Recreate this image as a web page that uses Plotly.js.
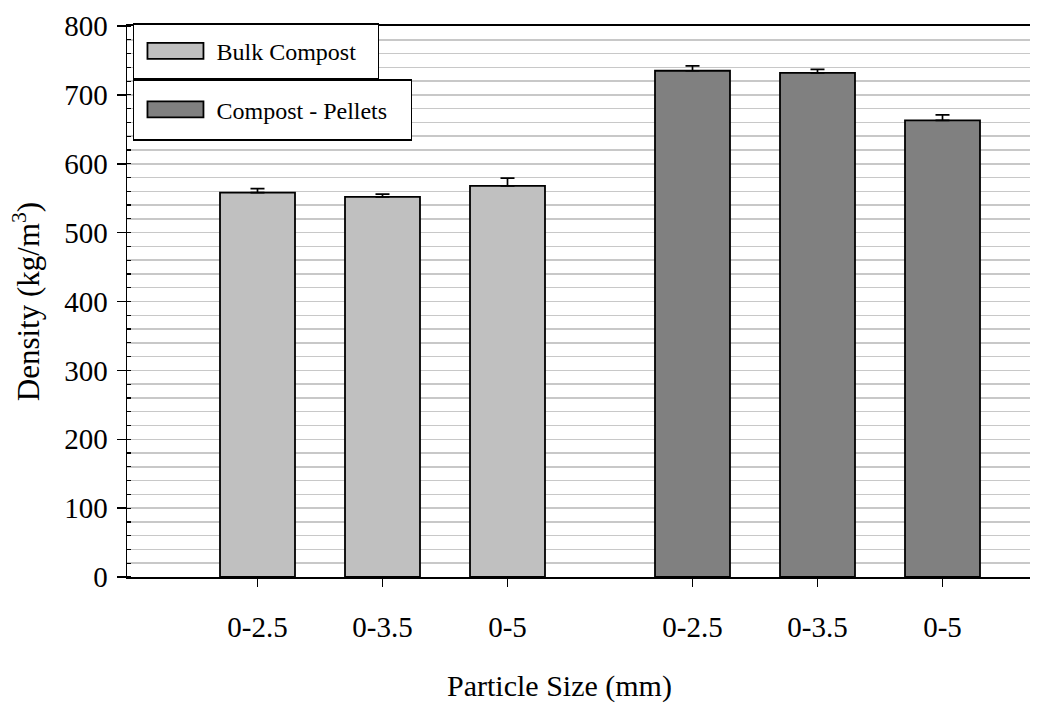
<!DOCTYPE html>
<html>
<head>
<meta charset="utf-8">
<script src="https://cdn.plot.ly/plotly-3.0.1.min.js"></script>
<style>
  html, body { margin: 0; padding: 0; background: #fff; }
  #chart { width: 1059px; height: 705px; }
</style>
</head>
<body>
<div id="chart"></div>
<script>
// Particle size classes (mm), shared by both product groups
const sizes = ['0-2.5', '0-3.5', '0-5'];

// Bulk compost density (kg/m3) and standard deviation
const bulkDensity = [558, 552, 568];
const bulkErr = [6, 4, 11];

// Compost pellet density (kg/m3) and standard deviation
const pelletDensity = [735, 732, 663];
const pelletErr = [7, 5, 8];

// Layout of the two bar groups along a numeric axis
const groupGap = 1.48;
const bulkX = sizes.map((_, i) => i);
const pelletX = sizes.map((_, i) => sizes.length - 1 + groupGap + i);

const serif = 'Liberation Serif';

// Upper-only error whiskers
const errStyle = (arr) => ({
  type: 'data', symmetric: false, array: arr, arrayminus: arr.map(() => 0),
  visible: true, color: '#000', thickness: 1.7, width: 7
});

const traces = [
  {
    type: 'bar', name: 'Bulk Compost',
    x: bulkX, y: bulkDensity, width: 0.6,
    marker: { color: '#c0c0c0', line: { color: '#000', width: 1.8 } },
    error_y: errStyle(bulkErr),
    legend: 'legend'
  },
  {
    type: 'bar', name: 'Compost - Pellets',
    x: pelletX, y: pelletDensity, width: 0.6,
    marker: { color: '#808080', line: { color: '#000', width: 1.8 } },
    error_y: errStyle(pelletErr),
    legend: 'legend2'
  }
];

const legendBase = {
  bgcolor: '#fff', bordercolor: '#000', borderwidth: 1.5,
  font: { family: serif, size: 24, color: '#000' },
  xref: 'paper', yref: 'paper', xanchor: 'left', yanchor: 'top',
  itemwidth: 72
};

const layout = {
  width: 1059, height: 705,
  margin: { l: 127, r: 29, t: 26, b: 128 },
  paper_bgcolor: '#fff', plot_bgcolor: '#fff',
  font: { family: serif, color: '#000' },
  showlegend: true,
  legend: Object.assign({}, legendBase, { x: 0.0066, y: 1.0054 }),
  legend2: Object.assign({}, legendBase, { x: 0.0066, y: 0.9038 }),
  xaxis: {
    range: [-1.044, 6.18],
    tickmode: 'array',
    tickvals: bulkX.concat(pelletX),
    ticktext: sizes.concat(sizes),
    ticks: 'outside', ticklen: 8, tickwidth: 1.5, tickcolor: '#000',
    ticklabelstandoff: 15,
    showline: true, linecolor: '#000', linewidth: 2, mirror: true,
    showgrid: false, zeroline: false,
    tickfont: { family: serif, size: 29, color: '#000' }
  },
  yaxis: {
    range: [0, 800], dtick: 100,
    ticks: 'outside', ticklen: 9, tickwidth: 1.5, tickcolor: '#000',
    ticklabelstandoff: 3,
    showline: true, linecolor: '#000', linewidth: 1.5,
    showgrid: true, gridcolor: '#c8c8c8', gridwidth: 1.5,
    zeroline: false,
    minor: { dtick: 20, ticks: 'inside', ticklen: 4, tickwidth: 1.2, tickcolor: '#000',
             showgrid: true, gridcolor: '#c8c8c8', gridwidth: 1.5 },
    tickfont: { family: serif, size: 29, color: '#000' },
    title: { text: 'Density (kg/m<sup>3</sup>)', font: { family: serif, size: 31, color: '#000' }, standoff: 15 }
  },
  // x-axis caption, set slightly left of the plot centre
  annotations: [{
    text: 'Particle Size (mm)', showarrow: false,
    xref: 'paper', yref: 'paper', x: 0.4795, y: -0.1978,
    xanchor: 'center', yanchor: 'middle', borderpad: 0,
    font: { family: serif, size: 30, color: '#000' }
  }],
  bargap: 0
};

// Legend boxes: wide swatches and fixed box sizes
const legendBoxes = { legend: [245, 55], legend2: [278, 60] };

function styleLegends(gd) {
  Object.keys(legendBoxes).forEach((cls) => {
    const g = gd.querySelector('g.' + cls);
    if (!g) return;
    const [w, h] = legendBoxes[cls];
    const bg = g.querySelector('rect.bg');
    let oldH = h;
    if (bg) {
      oldH = parseFloat(bg.getAttribute('height')) || h;
      bg.setAttribute('width', w);
      bg.setAttribute('height', h);
    }
    const scroll = g.querySelector('g.scrollbox');
    if (scroll) {
      const clip = scroll.getAttribute('clip-path');
      const m = clip && clip.match(/#([^)'"]+)/);
      if (m) {
        const cr = document.getElementById(m[1]);
        const r = cr && cr.querySelector('rect');
        if (r) { r.setAttribute('width', w); r.setAttribute('height', h); }
      }
      const dy = (h - oldH) / 2;
      const groups = scroll.querySelector('g.groups');
      if (groups) groups.setAttribute('transform', 'translate(0,' + dy + ')');
    }
    g.querySelectorAll('g.legendpoints path').forEach((p) => {
      p.setAttribute('d', 'M28,8H-28V-8H28Z');
    });
  });
}

Plotly.newPlot('chart', traces, layout, { staticPlot: true, displayModeBar: false })
  .then(styleLegends);
</script>
</body>
</html>
